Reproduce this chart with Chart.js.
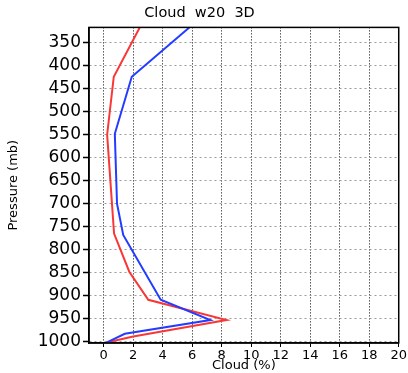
<!DOCTYPE html>
<html>
<head>
<meta charset="utf-8">
<script src="https://cdn.jsdelivr.net/npm/chart.js@4/dist/chart.umd.min.js"></script>
<style>
  body { margin: 0; background: #fff; }
  canvas { display: block; }
</style>
</head>
<body>
<canvas id="cloudCanvas" width="408" height="373"></canvas>
<script>
// pressure levels (mb) and cloud fraction (%)
let bluePressure = [317, 424, 548, 700, 768, 909, 953, 983, 1002];
let blueCloud = [5.8, 1.9, 0.75, 0.9, 1.32, 3.86, 7.23, 1.43, 0.18];
let redPressure = [317, 424, 550, 765, 848, 909, 953, 989, 1002];
let redCloud = [2.44, 0.68, 0.23, 0.7, 1.73, 3.02, 8.32, 2.0, 0.18];

let xTicks = [0, 2, 4, 6, 8, 10, 12, 14, 16, 18, 20];
let yTicks = [350, 400, 450, 500, 550, 600, 650, 700, 750, 800, 850, 900, 950, 1000];

let toPoints = function (xs, ys) {
    return xs.map(function (p, i) { return {x: ys[i], y: p}; });
};

// black frame round the plot area
let frame = {
    id: 'frame',
    afterDatasetsDraw: function (chart) {
        let a = chart.chartArea, ctx = chart.ctx;
        ctx.save();
        ctx.strokeStyle = '#000';
        ctx.lineWidth = 1.5;
        ctx.strokeRect(a.left, a.top, a.right - a.left, a.bottom - a.top);
        ctx.restore();
    }
};

window.onload = function () {
    let ctx = document.getElementById('cloudCanvas').getContext('2d');
    window.cloudChart = new Chart(ctx, {
        type: 'scatter',
        data: {
            datasets: [{
                label: 'blue',
                data: toPoints(bluePressure, blueCloud),
                showLine: true,
                borderColor: 'rgb(35,60,255)',
                borderWidth: 2,
                pointRadius: 0,
                tension: 0
            }, {
                label: 'red',
                data: toPoints(redPressure, redCloud),
                showLine: true,
                borderColor: 'rgb(250,55,55)',
                borderWidth: 2,
                pointRadius: 0,
                tension: 0
            }]
        },
        options: {
            responsive: false,
            animation: false,
            layout: { padding: { left: 0, right: 9, top: 0, bottom: 0 } },
            plugins: {
                legend: { display: false },
                tooltip: { enabled: false },
                title: {
                    display: true,
                    text: 'Cloud  w20  3D',
                    color: '#000',
                    font: { family: 'DejaVu Sans', size: 14.5, weight: 'normal' },
                    padding: { top: 5, bottom: 5 }
                }
            },
            scales: {
                x: {
                    type: 'linear',
                    min: -1,
                    max: 20,
                    afterBuildTicks: function (s) { s.ticks = xTicks.map(function (v) { return {value: v}; }); },
                    afterFit: function (s) { s.height = 30; },
                    ticks: {
                        color: '#000',
                        padding: 1,
                        maxRotation: 0,
                        autoSkip: false,
                        font: { family: 'DejaVu Sans', size: 13 },
                        callback: function (v) { return String(v); }
                    },
                    grid: {
                        color: function (c) { return c.tick && c.tick.value === 20 ? 'rgba(0,0,0,0)' : '#000'; },
                        lineWidth: 1,
                        tickLength: 4,
                        tickColor: '#000',
                        tickBorderDash: []
                    },
                    border: { display: true, color: '#000', width: 1.5, dash: [1, 2] },
                    title: {
                        display: true,
                        text: 'Cloud (%)',
                        color: '#000',
                        font: { family: 'DejaVu Sans', size: 13 },
                        padding: { top: 0, bottom: 0 }
                    }
                },
                y: {
                    type: 'linear',
                    reverse: true,
                    min: 316.7,
                    max: 1003,
                    afterBuildTicks: function (s) { s.ticks = yTicks.map(function (v) { return {value: v}; }); },
                    afterFit: function (s) { s.width = 89; },
                    ticks: {
                        color: '#000',
                        padding: 2,
                        autoSkip: false,
                        font: { family: 'DejaVu Sans', size: 17 },
                        callback: function (v) { return String(v); }
                    },
                    grid: {
                        color: '#9a9a9a',
                        lineWidth: 1,
                        tickLength: 6,
                        tickColor: '#000',
                        tickWidth: 1.5,
                        tickBorderDash: []
                    },
                    border: { display: true, color: '#000', width: 1.5, dash: [2, 3] },
                    title: {
                        display: true,
                        text: 'Pressure (mb)',
                        color: '#000',
                        font: { family: 'DejaVu Sans', size: 13 },
                        padding: { top: 6, bottom: 0 }
                    }
                }
            }
        },
        plugins: [frame]
    });
};
</script>
</body>
</html>
